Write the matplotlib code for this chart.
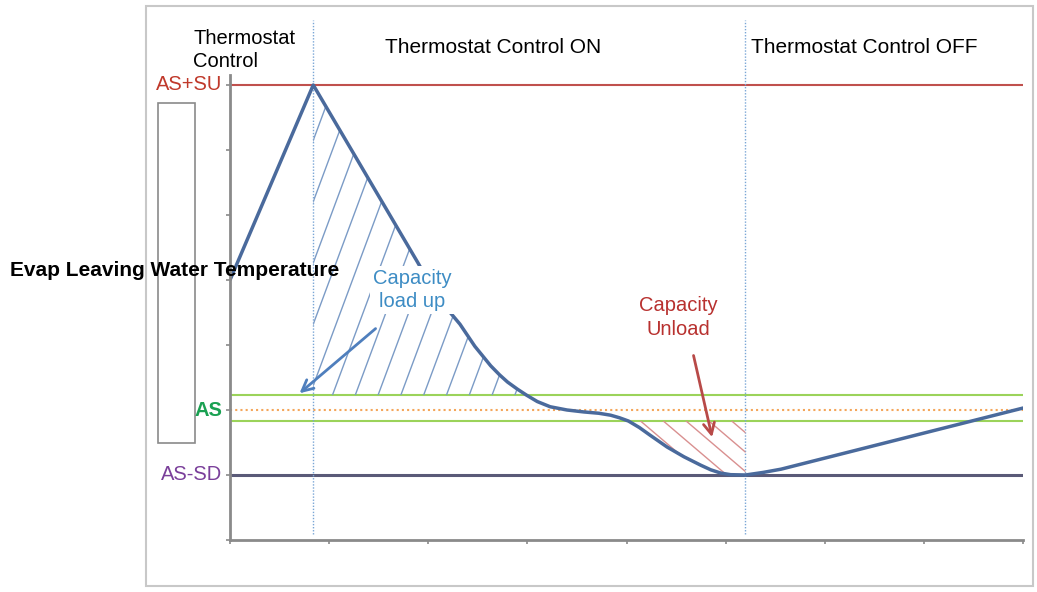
import numpy as np
import matplotlib
matplotlib.use("Agg")
import matplotlib.pyplot as plt
from matplotlib.patches import Rectangle

plt.rcParams["font.family"] = ["Liberation Sans", "DejaVu Sans"]

# temperature curve (x = time units, y = temperature units)
curve_x = [0.0, 0.84, 1.89, 2.10, 2.32, 2.47, 2.63, 2.72, 2.80, 2.90, 2.99, 3.10,
           3.23, 3.40, 3.57, 3.72, 3.84, 3.93, 4.02, 4.13, 4.24, 4.41, 4.58, 4.75,
           4.85, 4.95, 5.05, 5.20, 5.38, 5.56, 8.0]
curve_y = [4.0, 7.0, 4.28, 3.72, 3.32, 2.98, 2.68, 2.54, 2.43, 2.32, 2.23, 2.13,
           2.05, 2.00, 1.97, 1.95, 1.92, 1.88, 1.83, 1.73, 1.61, 1.43, 1.28, 1.15,
           1.08, 1.03, 1.005, 1.0, 1.04, 1.09, 2.03]

# set points
as_su = 7.0
as_sp = 2.0
band_hi = 2.23
band_lo = 1.83
as_sd = 1.0
switch_x = [0.84, 5.2]

phase_labels = ["Thermostat\nControl", "Thermostat Control ON", "Thermostat Control OFF"]
level_labels = ["AS+SU", "AS", "AS-SD"]
level_values = [as_su, as_sp, as_sd]
level_colors = ["#c0392b", "#1aa152", "#7a3f9a"]

fig = plt.figure(figsize=(10.37, 5.92), dpi=100)
ax = fig.add_axes([230 / 1037, 52 / 592, 793 / 1037, 520 / 592])
ax.set_xlim(0, 8)
ax.set_ylim(0, 8)

# outer frame
fig.add_artist(Rectangle((146 / 1037, 6 / 592), 887 / 1037, 580 / 592,
                         transform=fig.transFigure, fill=False,
                         edgecolor="#c8c8c8", lw=1.5))

for s in ["top", "right"]:
    ax.spines[s].set_visible(False)
for s in ["left", "bottom"]:
    ax.spines[s].set_color("#8a8a8a")
    ax.spines[s].set_linewidth(2)
ax.spines["left"].set_bounds(0, 7.15)
ax.set_xticks(np.arange(0, 9))
ax.set_yticks(np.arange(0, 8))
ax.set_xticklabels([])
ax.set_yticklabels([])
ax.tick_params(length=3, width=1.2, color="#8a8a8a")

# level lines
ax.axhline(as_su, color="#c0504d", lw=1.5)
ax.axhline(band_hi, color="#9bd35a", lw=1.5)
ax.axhline(band_lo, color="#9bd35a", lw=1.5)
ax.axhline(as_sp, color="#f4a65a", lw=1.5, ls=(0, (1, 1.5)))
ax.axhline(as_sd, color="#5a5a78", lw=2.2)

for xv in switch_x:
    ax.plot([xv, xv], [0.1, 8.0], color="#7aa6d6", lw=1, ls=(0, (1, 1.2)),
            clip_on=False)


def hatch(poly, slope, spacing, color):
    # parallel lines clipped to poly
    for c in np.arange(-60, 60, spacing):
        xs = np.array([-1.0, 9.0])
        ln, = ax.plot(xs, slope * (xs - c), color=color, lw=1)
        ln.set_clip_path(poly)


# load-up region: from the switch line, under the curve, above the upper band line
i0, i1 = curve_x.index(0.84), curve_x.index(2.99)
blue_poly = ax.fill([0.84] + curve_x[i0:i1 + 1], [band_hi] + curve_y[i0:i1 + 1],
                    facecolor="none", edgecolor="none")[0]
hatch(blue_poly, 4.1, 0.23, "#7b9bc6")

# unload region: below the lower band line, above the curve, up to the switch line
j0, j1 = curve_x.index(4.02), curve_x.index(5.20)
red_poly = ax.fill(curve_x[j0:j1 + 1] + [5.20], curve_y[j0:j1 + 1] + [band_lo],
                   facecolor="none", edgecolor="none")[0]
hatch(red_poly, -1.3, 0.23, "#d99090")

ax.plot(curve_x, curve_y, color="#4a6a9c", lw=2.5, solid_capstyle="round",
        solid_joinstyle="round")

# texts
ax.text(-0.37, 7.54, phase_labels[0], fontsize=14.5, ha="left", va="center",
        linespacing=1.3, clip_on=False)
ax.text(1.56, 7.57, phase_labels[1], fontsize=15, ha="left", va="center")
ax.text(5.26, 7.57, phase_labels[2], fontsize=15, ha="left", va="center")

for lab, yv, col in zip(level_labels, level_values, level_colors):
    ax.text(-0.08, yv, lab, fontsize=14.5, color=col, ha="right", va="center",
            fontweight="bold" if lab == "AS" else "normal", clip_on=False)

ax.add_patch(Rectangle((-0.727, 1.49), 0.373, 5.23, fill=False,
                       edgecolor="#8a8a8a", lw=1.2, clip_on=False))

ax.text(-2.22, 4.14, "Evap Leaving Water Temperature", fontsize=15,
        fontweight="bold", ha="left", va="center", clip_on=False, zorder=5)

ax.text(1.84, 3.85, "Capacity\nload up", fontsize=14.5, color="#3d8cc4",
        ha="center", va="center", linespacing=1.3, zorder=5,
        bbox=dict(facecolor="white", edgecolor="none", pad=2))
ax.text(4.52, 3.42, "Capacity\nUnload", fontsize=14.5, color="#b8312f",
        ha="center", va="center", linespacing=1.3, zorder=5)

ax.annotate("", xy=(0.68, 2.23), xytext=(1.49, 3.28), zorder=6,
            arrowprops=dict(arrowstyle="->,head_length=0.8,head_width=0.4",
                            color="#4f7fbd", lw=2))
ax.annotate("", xy=(4.87, 1.54), xytext=(4.67, 2.88), zorder=6,
            arrowprops=dict(arrowstyle="->,head_length=0.8,head_width=0.4",
                            color="#b84a48", lw=2))

fig.savefig("out.png", dpi=100)
